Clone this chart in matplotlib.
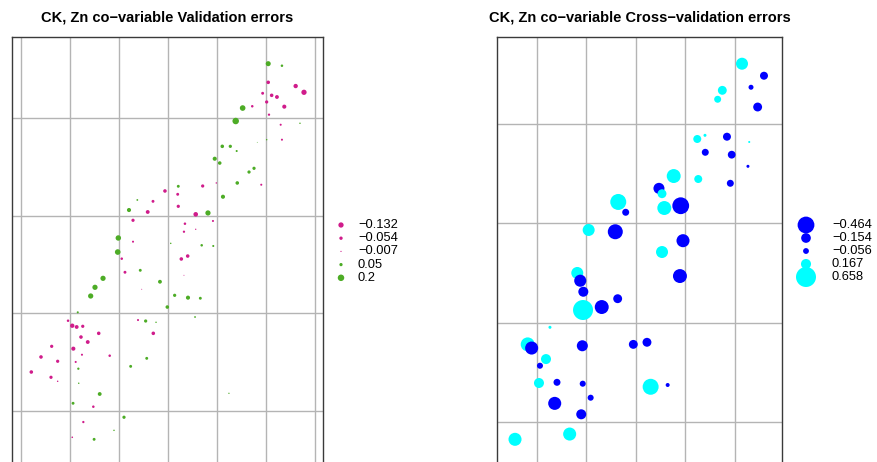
import numpy as np
import matplotlib.pyplot as plt

plt.rcParams['font.family'] = ['Liberation Sans', 'DejaVu Sans']

# validation set: coordinates (km) and kriging error
val_x = [2.523, 2.663, 2.523, 2.803, 2.888, 2.466, 2.558, 2.612, 2.507, 2.360,
         2.687, 2.262, 2.531, 2.191, 2.650, 2.847, 2.507, 2.411, 2.663, 2.054,
         2.136, 2.201, 1.977, 2.028, 2.378, 2.327, 2.207, 2.452, 1.993, 1.605,
         1.854, 1.469, 1.599, 2.061, 1.187, 1.347, 1.605, 1.102, 1.293, 1.783,
         1.908, 1.143, 1.673, 1.959, 1.663, 1.783, 0.993, 1.143, 1.528, 1.844,
         1.962, 0.987, 1.028, 1.061, 1.217, 0.837, 1.418, 1.232, 0.755, 0.711,
         1.568, 1.704, 1.830, 1.636, 1.701, 1.663, 1.493, 0.579, 0.480, 0.523,
         0.568, 0.630, 1.194, 1.272, 1.378, 1.776, 0.793, 1.350, 0.612, 0.681,
         0.313, 0.534, 0.622, 0.905, 1.283, 0.204, 0.374, 0.558, 1.119, 0.585,
         0.105, 0.306, 0.374, 0.589, 0.803, 2.122, 0.531, 0.738, 1.051, 0.636,
         0.949, 0.523, 0.746]
val_y = [3.555, 3.534, 3.364, 3.326, 3.262, 3.252, 3.231, 3.214, 3.163, 3.119,
         3.115, 3.101, 3.033, 2.968, 2.930, 2.945, 2.777, 2.750, 2.777, 2.709,
         2.709, 2.661, 2.582, 2.538, 2.484, 2.446, 2.334, 2.316, 2.334, 2.300,
         2.303, 2.252, 2.218, 2.193, 2.160, 2.146, 2.095, 2.057, 2.037, 2.013,
         2.027, 1.952, 1.917, 1.945, 1.835, 1.860, 1.771, 1.733, 1.716, 1.696,
         1.689, 1.627, 1.559, 1.420, 1.440, 1.358, 1.323, 1.246, 1.266, 1.177,
         1.184, 1.160, 1.154, 1.556, 1.586, 1.389, 1.064, 1.010, 0.924, 0.873,
         0.860, 0.867, 0.931, 0.921, 0.908, 0.962, 0.795, 0.795, 0.757, 0.706,
         0.662, 0.638, 0.576, 0.566, 0.539, 0.553, 0.509, 0.502, 0.457, 0.433,
         0.399, 0.345, 0.304, 0.284, 0.174, 0.181, 0.079, 0.044, -0.064, -0.113,
         -0.198, -0.269, -0.290]
val_err = [0.12, 0.03, -0.06, -0.09, -0.132, -0.04, -0.06, -0.07, -0.05, -0.03,
           -0.08, 0.15, -0.025, 0.2, -0.02, 0.01, 0.01, 0.003, -0.02, 0.06,
           0.05, 0.02, 0.08, 0.06, 0.05, 0.05, 0.06, -0.02, -0.01, 0.04,
           -0.05, -0.06, -0.04, 0.08, 0.015, -0.04, -0.05, 0.08, -0.07, -0.1,
           0.13, -0.05, -0.03, -0.02, -0.025, -0.008, 0.14, -0.02, 0.01, 0.03,
           0.02, 0.15, -0.03, -0.04, 0.04, 0.13, 0.07, -0.004, 0.13, 0.13,
           0.05, 0.08, 0.04, -0.06, -0.06, -0.004, 0.06, 0.02, -0.03, -0.09,
           -0.07, -0.05, -0.02, 0.05, 0.01, 0.015, -0.06, -0.06, -0.06, -0.07,
           -0.05, -0.08, -0.02, -0.03, 0.04, -0.06, -0.05, -0.02, 0.04, 0.025,
           -0.06, -0.05, -0.01, 0.01, 0.07, 0.008, 0.04, -0.03, 0.05, -0.025,
           0.01, -0.012, 0.04]

# cross-validation set
cv_x = [2.071, 2.293, 2.162, 1.872, 1.825, 2.229, 1.619, 1.697, 1.919, 2.144,
        1.700, 1.967, 2.131, 1.953, 1.381, 1.629, 1.232, 1.263, 1.286, 1.452,
        0.821, 0.896, 0.522, 0.791, 1.475, 1.263, 1.444, 0.407, 0.437, 0.468,
        0.465, 0.654, 0.815, 0.131, -0.094, -0.054, 0.091, 0.030, 0.458, 0.973,
        1.111, 0.020, 0.202, 0.462, 1.148, 1.320, 0.542, 0.179, 0.447, -0.222,
        0.330]
cv_y = [3.608, 3.487, 3.371, 3.340, 3.250, 3.172, 2.850, 2.887, 2.873, 2.820,
        2.716, 2.692, 2.575, 2.404, 2.477, 2.447, 2.353, 2.299, 2.155, 2.178,
        2.216, 2.112, 1.934, 1.916, 1.826, 1.712, 1.470, 1.501, 1.423, 1.312,
        1.128, 1.158, 1.242, 0.954, 0.782, 0.745, 0.634, 0.567, 0.768, 0.782,
        0.803, 0.393, 0.400, 0.386, 0.355, 0.373, 0.245, 0.188, 0.078, -0.174,
        -0.121]
cv_err = [0.237, -0.105, -0.041, 0.13, 0.08, -0.13, 0.105, 0.015, -0.105, 0.007,
          -0.08, -0.1, -0.015, -0.08, 0.32, 0.105, -0.2, 0.13, 0.32, -0.464,
          0.42, -0.08, 0.237, -0.37, -0.28, 0.237, -0.32, 0.237, -0.24, -0.165,
          0.658, -0.32, -0.13, 0.015, 0.32, -0.28, 0.165, -0.06, -0.2, -0.13,
          -0.13, 0.165, -0.08, -0.06, 0.42, -0.026, -0.06, -0.28, -0.165, 0.28,
          0.28]

val_breaks = [-0.132, -0.054, -0.007, 0.05, 0.2]
cv_breaks = [-0.464, -0.154, -0.056, 0.167, 0.658]

W, H = 878, 462
fig = plt.figure(figsize=(W / 100, H / 100), dpi=100)


def px_box(l, t, r, b):
    # pixel box -> figure fraction
    return [l / W, 1 - b / H, (r - l) / W, (b - t) / H]


def bubble_size(z, zmax, dmax):
    d = dmax * np.sqrt(np.abs(np.asarray(z)) / zmax)  # diameter in px
    return (d * 0.72) ** 2


def panel(box, xlim, ylim, xs, ys, zs, cols, dmax, title):
    ax = fig.add_axes(px_box(*box))
    ax.set_xlim(xlim)
    ax.set_ylim(ylim)
    for g in np.arange(0, xlim[1], 0.5):
        ax.axvline(g, color='#b4b4b4', lw=1.0, zorder=1)
    for g in np.arange(-1, ylim[1], 1.0):
        ax.axhline(g, color='#b4b4b4', lw=1.0, zorder=1)
    zs = np.asarray(zs)
    zmax = np.abs(zs).max()
    ax.scatter(xs, ys, s=bubble_size(zs, zmax, dmax),
               c=np.where(zs < 0, cols[0], cols[1]), linewidths=0, zorder=3)
    ax.set_xticks([])
    ax.set_yticks([])
    for sp in ax.spines.values():
        sp.set_color('#3a3a3a')
        sp.set_linewidth(1.0)
    cx = (box[0] + box[2]) / 2
    fig.text(cx / W, 1 - 17 / H, title, ha='center', va='center',
             fontsize=10.5, fontweight='bold')
    return zmax


leg = fig.add_axes([0, 0, 1, 1])
leg.set_xlim(0, W)
leg.set_ylim(H, 0)
leg.axis('off')


def legend(mx, tx, y0, pitch, breaks, cols, zmax, dmax):
    b = np.asarray(breaks)
    ys = y0 + pitch * np.arange(len(b))
    leg.scatter(np.full(len(b), mx), ys, s=bubble_size(b, zmax, dmax),
                c=np.where(b < 0, cols[0], cols[1]), linewidths=0)
    for y, v in zip(ys, breaks):
        leg.text(tx, y, f'{v:g}'.replace('-', '\u2212'), va='center', fontsize=9.3)


piyg = ('#d01c8b', '#4dac26')
bc = ('#0000ff', '#00ffff')

zl = panel((12, 37, 323, 500), (-0.092, 3.082), (-0.911, 3.828),
           val_x, val_y, val_err, piyg, 6.5,
           'CK, Zn co\u2212variable Validation errors')
zr = panel((497, 37, 782, 500), (-0.404, 2.475), (-0.785, 3.877),
           cv_x, cv_y, cv_err, bc, 20,
           'CK, Zn co\u2212variable Cross\u2212validation errors')

legend(341, 358, 225, 13.2, val_breaks, piyg, zl, 6.5)
legend(806, 832, 225, 13.0, cv_breaks, bc, zr, 20)

fig.savefig('out.png', dpi=100)
